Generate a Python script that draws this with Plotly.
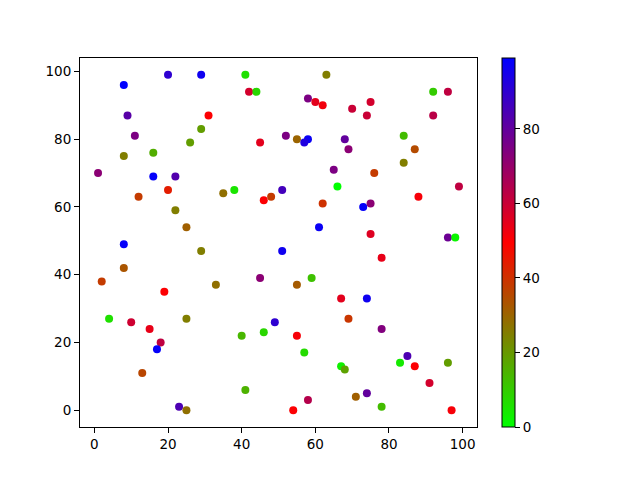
import plotly.graph_objects as go

# scatter points
x_vals = [8, 20, 29, 41, 42, 44, 9, 31, 29, 11, 26, 45, 8, 16, 1, 16, 22, 20, 12, 35,
          38, 46, 48, 22, 25, 8, 63, 58, 60, 62, 70, 75, 74, 92, 96, 92, 52, 55, 58, 57,
          68, 69, 84, 87, 84, 65, 76, 66, 99, 51, 62, 73, 75, 88, 61, 75, 96, 98, 51, 8,
          2, 19, 33, 45, 4, 10, 15, 25, 18, 17, 49, 46, 40, 13, 41, 23, 25, 29, 78, 59,
          55, 67, 74, 69, 78, 55, 57, 67, 68, 85, 83, 87, 96, 91, 58, 71, 74, 78, 54, 97]
y_vals = [96, 99, 99, 99, 94, 94, 87, 87, 83, 81, 79, 79, 75, 76, 70, 69, 69, 65, 63, 64,
          65, 62, 63, 59, 54, 49, 99, 92, 91, 90, 89, 91, 87, 94, 94, 87, 81, 80, 80, 79,
          80, 77, 81, 77, 73, 71, 70, 66, 66, 65, 61, 60, 61, 63, 54, 52, 51, 51, 47, 42,
          38, 35, 37, 39, 27, 26, 24, 27, 20, 18, 26, 23, 22, 11, 6, 1, 0, 47, 45, 39,
          37, 33, 33, 27, 24, 22, 17, 13, 12, 16, 14, 13, 14, 8, 3, 4, 5, 1, 0, 0]
c_vals = [99, 90, 96, 6, 58, 8, 82, 50, 19, 75, 19, 55, 25, 16, 72, 98, 83, 44, 38, 28,
          5, 50, 38, 25, 31, 98, 25, 75, 55, 52, 60, 58, 60, 10, 62, 63, 75, 30, 97, 93,
          80, 72, 13, 35, 25, 75, 38, 0, 62, 86, 40, 98, 72, 51, 97, 56, 78, 2, 96, 33,
          38, 50, 28, 72, 6, 59, 54, 25, 62, 98, 90, 8, 14, 36, 15, 84, 28, 25, 54, 12,
          32, 55, 96, 39, 74, 51, 7, 3, 18, 84, 4, 50, 19, 58, 64, 31, 80, 13, 50, 51]
cbar_ticks = [0, 20, 40, 60, 80]

# matplotlib "brg_r"
brg_r = [[0.0, "rgb(0,255,0)"], [0.5, "rgb(255,0,0)"], [1.0, "rgb(0,0,255)"]]

fig = go.Figure()
fig.add_trace(go.Scatter(
    x=x_vals, y=y_vals, mode="markers",
    marker=dict(size=8, color=c_vals, colorscale=brg_r,
                cmin=min(c_vals), cmax=max(c_vals), line=dict(width=0),
                colorbar=dict(x=1.063, xanchor="left", y=0.5, yanchor="middle",
                              len=1, lenmode="fraction", thickness=13,
                              xpad=0, ypad=0,
                              outlinecolor="black", outlinewidth=1,
                              tickvals=cbar_ticks, ticks="outside", ticklen=5,
                              tickcolor="black", tickfont=dict(size=13.5, color="black"))),
    showlegend=False,
))

def pad(lo, hi):
    m = (hi - lo) * 0.05
    return [lo - m, hi + m]

axis_style = dict(showgrid=False, zeroline=False, showline=True, linecolor="black",
                  linewidth=1, mirror=True, ticks="outside", ticklen=5, tickcolor="black",
                  tickfont=dict(size=13.5, color="black"))

fig.update_xaxes(range=pad(min(x_vals), max(x_vals)), tickvals=[0, 20, 40, 60, 80, 100],
                 **axis_style)
fig.update_yaxes(range=pad(min(y_vals), max(y_vals)), tickvals=[0, 20, 40, 60, 80, 100],
                 **axis_style)

# page body adds ~8px offset, so margins are shifted to compensate
fig.update_layout(
    width=640, height=480,
    margin=dict(l=72, r=171, t=50, b=61),
    paper_bgcolor="white", plot_bgcolor="white",
    font=dict(family="DejaVu Sans", color="black"),
)

fig.write_html("out.html")
